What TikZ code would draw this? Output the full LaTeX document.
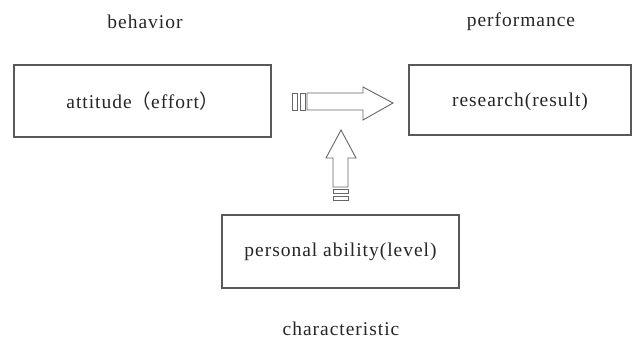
\documentclass[tikz,border=0pt]{standalone}
\usepackage{fontspec}
\setmainfont{Liberation Serif}[LetterSpace=5]
\newfontfamily\cjk{Noto Sans CJK SC}
\begin{document}
\begin{tikzpicture}[x=1pt,y=-1pt,
  box/.style={draw=black!65,line width=1.3pt,inner sep=0pt},
  lbl/.style={font=\fontsize{19.5}{22}\selectfont,text=black!85},
  arr/.style={draw=black!60,line width=0.9pt,fill=white}]
\useasboundingbox (0,0) rectangle (642,347);
\node[box,minimum width=257pt,minimum height=72pt] (att) at (142.5,101) {};
\node[lbl] at (att.center) {attitude{\cjk （}effort{\cjk ）}};
\node[box,minimum width=222pt,minimum height=70pt] (res) at (520,100) {};
\node[lbl] at ([yshift=-2pt]res.center) {research(result)};
\node[box,minimum width=237pt,minimum height=73pt] (pers) at (340.5,251.5) {};
\node[lbl] at (pers.center) {personal ability(level)};
\node[lbl] (beh) at (145,22) {behavior};
\node[lbl] (perf) at (521,22) {performance};
\node[lbl] (char) at (341,329) {characteristic};
% horizontal arrow
\draw[arr] (307,93) -- (363,93) -- (363,87) -- (393,103) -- (363,120) -- (363,110) -- (307,110) -- cycle;
\draw[arr] (292,93) rectangle (297,110);
\draw[arr] (300,93) rectangle (305,110);
% vertical arrow
\draw[arr] (333,187) -- (333,158) -- (326,158) -- (341,130) -- (356,158) -- (348,158) -- (348,187) -- cycle;
\draw[arr] (333,189) rectangle (348,193);
\draw[arr] (333,196) rectangle (348,200);
\end{tikzpicture}
\end{document}
